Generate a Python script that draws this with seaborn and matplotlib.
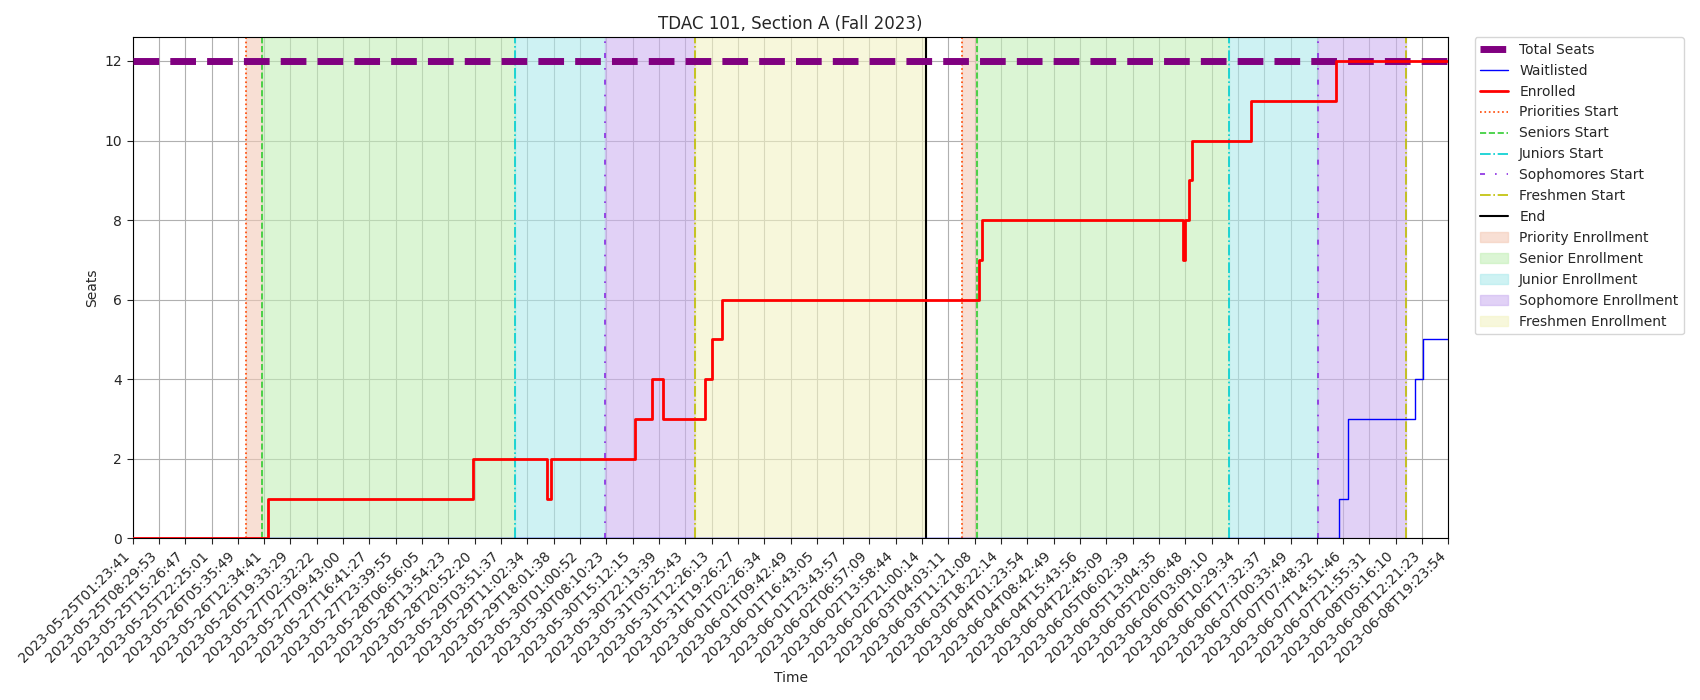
import matplotlib
matplotlib.use("Agg")
import matplotlib.pyplot as plt
import seaborn as sns
import pandas as pd

# -------- DATA --------
TICK_LABELS = [
    "2023-05-25T01:23:41", "2023-05-25T08:29:53", "2023-05-25T15:26:47", "2023-05-25T22:25:01",
    "2023-05-26T05:35:49", "2023-05-26T12:34:41", "2023-05-26T19:33:29", "2023-05-27T02:32:22",
    "2023-05-27T09:43:00", "2023-05-27T16:41:27", "2023-05-27T23:39:55", "2023-05-28T06:56:05",
    "2023-05-28T13:54:23", "2023-05-28T20:52:20", "2023-05-29T03:51:37", "2023-05-29T11:02:34",
    "2023-05-29T18:01:38", "2023-05-30T01:00:52", "2023-05-30T08:10:23", "2023-05-30T15:12:15",
    "2023-05-30T22:13:39", "2023-05-31T05:25:43", "2023-05-31T12:26:13", "2023-05-31T19:26:27",
    "2023-06-01T02:26:34", "2023-06-01T09:42:49", "2023-06-01T16:43:05", "2023-06-01T23:43:57",
    "2023-06-02T06:57:09", "2023-06-02T13:58:44", "2023-06-02T21:00:14", "2023-06-03T04:03:11",
    "2023-06-03T11:21:08", "2023-06-03T18:22:14", "2023-06-04T01:23:54", "2023-06-04T08:42:49",
    "2023-06-04T15:43:56", "2023-06-04T22:45:09", "2023-06-05T06:02:39", "2023-06-05T13:04:35",
    "2023-06-05T20:06:48", "2023-06-06T03:09:10", "2023-06-06T10:29:34", "2023-06-06T17:32:37",
    "2023-06-07T00:33:49", "2023-06-07T07:48:32", "2023-06-07T14:51:46", "2023-06-07T21:55:31",
    "2023-06-08T05:16:10", "2023-06-08T12:21:23", "2023-06-08T19:23:54",
]
X_END = len(TICK_LABELS) - 1
TOTAL_SEATS = 12

# step changes (position in tick units, value)
ENROLLED_X = [0, 5.15, 12.93, 15.73, 15.9, 19.11, 19.73, 20.14, 21.75, 22.0, 22.4,
              32.17, 32.29, 39.9, 39.98, 40.16, 40.24, 42.5, 45.72, X_END]
ENROLLED_Y = [0, 1, 2, 1, 2, 3, 4, 3, 4, 5, 6, 7, 8, 7, 8, 9, 10, 11, 12, 12]
WAIT_X = [0, 45.84, 46.17, 48.72, 49.05, X_END]
WAIT_Y = [0, 1, 3, 4, 5, 5]

# two enrollment rounds
PRIORITY_START = [4.32, 31.51]
SENIOR_START = [4.90, 32.08]
JUNIOR_START = [14.54, 41.68]
SOPH_START = [17.96, 45.06]
FRESH_START = [21.38, 48.39]
END = [30.15]

sns.set_style("white")
fig, ax = plt.subplots(figsize=(17, 7), dpi=100)

# shaded phases
for i in range(2):
    ax.axvspan(PRIORITY_START[i], SENIOR_START[i], color="#f4cbb8", alpha=0.6,
               label="Priority Enrollment" if i == 0 else None)
    ax.axvspan(SENIOR_START[i], JUNIOR_START[i], color="#c4efb8", alpha=0.6,
               label="Senior Enrollment" if i == 0 else None)
    ax.axvspan(JUNIOR_START[i], SOPH_START[i], color="#aeeaec", alpha=0.6,
               label="Junior Enrollment" if i == 0 else None)
    ax.axvspan(SOPH_START[i], FRESH_START[i], color="#cdb3f0", alpha=0.6,
               label="Sophomore Enrollment" if i == 0 else None)
ax.axvspan(FRESH_START[0], END[0], color="#f3f3c4", alpha=0.6, label="Freshmen Enrollment")

sns.lineplot(x=[0, X_END], y=[TOTAL_SEATS, TOTAL_SEATS], ax=ax, color="purple",
             linestyle="--", linewidth=5, label="Total Seats", zorder=3)
sns.lineplot(x=WAIT_X, y=WAIT_Y, ax=ax, color="blue", linewidth=1,
             drawstyle="steps-post", label="Waitlisted", zorder=4)
sns.lineplot(x=ENROLLED_X, y=ENROLLED_Y, ax=ax, color="red", linewidth=2,
             drawstyle="steps-post", label="Enrolled", zorder=5)

for i in range(2):
    ax.axvline(PRIORITY_START[i], color="orangered", linestyle=":", linewidth=1.2,
               label="Priorities Start" if i == 0 else None)
    ax.axvline(SENIOR_START[i], color="limegreen", linestyle="--", linewidth=1.2,
               label="Seniors Start" if i == 0 else None)
    ax.axvline(JUNIOR_START[i], color="darkturquoise", linestyle="-.", linewidth=1.2,
               label="Juniors Start" if i == 0 else None)
    ax.axvline(SOPH_START[i], color="blueviolet", linestyle=(0, (3, 6, 1, 6)), linewidth=1.2,
               label="Sophomores Start" if i == 0 else None)
    ax.axvline(FRESH_START[i], color="y", linestyle="-.", linewidth=1.2,
               label="Freshmen Start" if i == 0 else None)
ax.axvline(END[0], color="black", linewidth=1.5, label="End")

ax.set_xlim(0, X_END)
ax.set_ylim(0, 12.6)
ax.set_xticks(range(len(TICK_LABELS)))
ax.set_xticklabels(TICK_LABELS, rotation=45, ha="right")
ax.tick_params(axis="both", length=4, bottom=True, left=True)
ax.grid(True, color="#b0b0b0", linewidth=0.8)
ax.set_axisbelow(True)
for s in ax.spines.values():
    s.set_color("black")
ax.set_title("TDAC 101, Section A (Fall 2023)")
ax.set_xlabel("Time")
ax.set_ylabel("Seats")

handles, labels = ax.get_legend_handles_labels()
order = ["Total Seats", "Waitlisted", "Enrolled", "Priorities Start", "Seniors Start",
         "Juniors Start", "Sophomores Start", "Freshmen Start", "End",
         "Priority Enrollment", "Senior Enrollment", "Junior Enrollment",
         "Sophomore Enrollment", "Freshmen Enrollment"]
hmap = dict(zip(labels, handles))
ax.legend([hmap[l] for l in order], order, loc="upper left", bbox_to_anchor=(1.02, 1.0),
          borderaxespad=0)

plt.subplots_adjust(left=0.078, right=0.852, top=0.947, bottom=0.231)
plt.savefig("out.png")
